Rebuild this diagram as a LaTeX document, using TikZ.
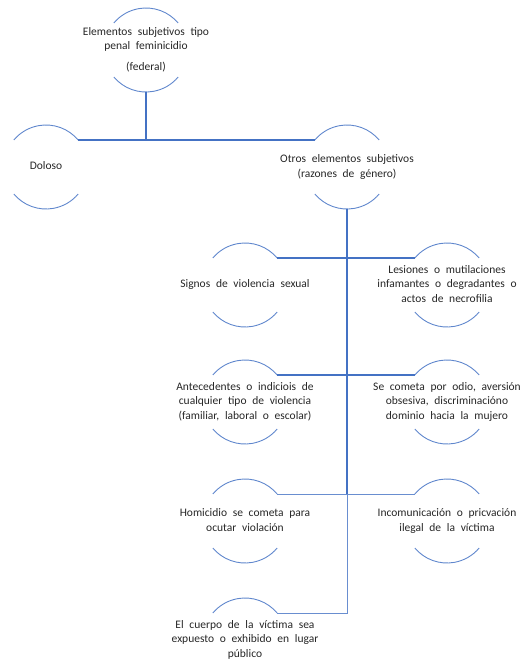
\documentclass[tikz,border=0pt]{standalone}
\usepackage{fontspec}
\setmainfont{Carlito}[WordSpace=2.2]
\definecolor{azul}{HTML}{4472C4}
\newcommand\rotulo[1]{\makebox[0pt]{\begin{tabular}{@{}c@{}}#1\end{tabular}}}
\tikzset{
    burbuja/.style={circle, minimum size=84pt, inner sep=0pt, outer sep=0pt, text=black!85, font=\fontsize{11.5}{14.5}\selectfont},
    arco/.style={draw=azul!85, line width=0.9pt},
    rama/.style={draw=azul, line width=1.6pt},
    ramafina/.style={draw=azul!80, line width=0.9pt}
}
\begin{document}
\begin{tikzpicture}[x=1pt,y=1pt]
    \useasboundingbox (0,0) rectangle (521,-662);
    \node[burbuja] (raiz) at (146,-50) {\rotulo{Elementos subjetivos tipo\\penal feminicidio\\[6pt](federal)}};
    \node[burbuja] (doloso) at (46,-167) {\rotulo{Doloso}};
    \node[burbuja] (otros) at (347,-167) {\rotulo{Otros elementos subjetivos\\(razones de género)}};
    \node[burbuja] (signos) at (245,-285) {\rotulo{Signos de violencia sexual}};
    \node[burbuja] (lesiones) at (447,-285) {\rotulo{Lesiones o mutilaciones\\infamantes o degradantes o\\actos de necrofilia}};
    \node[burbuja] (antecedentes) at (245,-402) {\rotulo{Antecedentes o indiciois de\\cualquier tipo de violencia\\(familiar, laboral o escolar)}};
    \node[burbuja] (odio) at (447,-402) {\rotulo{Se cometa por odio, aversión\\obsesiva, discriminacióno\\dominio hacia la mujero}};
    \node[burbuja] (homicidio) at (245,-521) {\rotulo{Homicidio se cometa para\\ocutar violación}};
    \node[burbuja] (incomunicacion) at (447,-521) {\rotulo{Incomunicación o pricvación\\ilegal de la víctima}};
    \node[burbuja] (cuerpo) at (245,-640) {\rotulo{El cuerpo de la víctima sea\\expuesto o exhibido en lugar\\público}};
    \foreach \n in {raiz,doloso,otros,signos,lesiones,antecedentes,odio,homicidio,incomunicacion,cuerpo} {
        \draw[arco] (\n.40) arc[start angle=40, end angle=140, radius=42pt];
        \draw[arco] (\n.220) arc[start angle=220, end angle=320, radius=42pt];
    }
    \coordinate (tronco) at (otros.south |- homicidio.40);
    \coordinate (fin) at (otros.south |- cuerpo.40);
    \draw[rama] (raiz.south) -- (raiz.south |- doloso.40);
    \draw[rama] (doloso.40) -- (otros.140);
    \draw[rama] (otros.south) -- (tronco);
    \draw[rama] (signos.40) -- (lesiones.140);
    \draw[rama] (antecedentes.40) -- (odio.140);
    \draw[ramafina] (homicidio.40) -- (incomunicacion.140);
    \draw[ramafina] (tronco) -- (fin) -- (cuerpo.40);
\end{tikzpicture}
\end{document}
